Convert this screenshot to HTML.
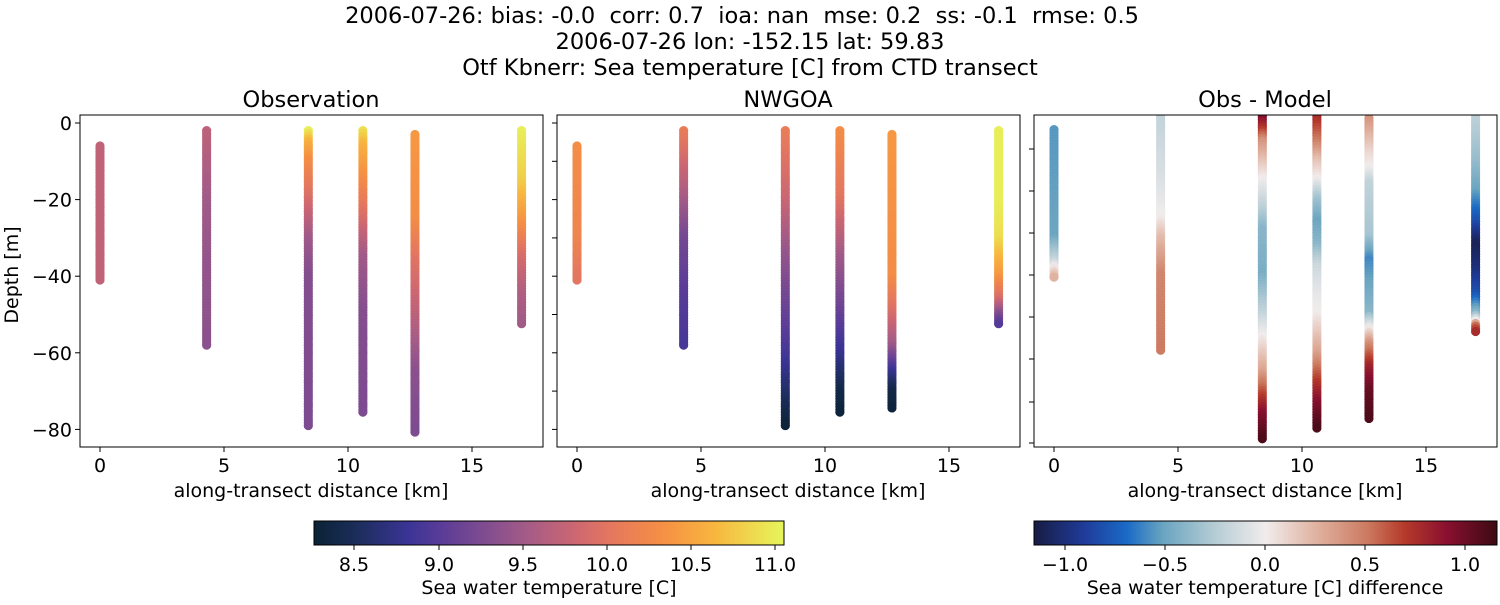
<!DOCTYPE html>
<html><head><meta charset="utf-8"><style>
body{margin:0;background:#fff}
svg text{font-family:"DejaVu Sans","Liberation Sans",sans-serif;fill:#000;white-space:pre}
</style></head><body>
<svg id="s" width="1500" height="600" xmlns="http://www.w3.org/2000/svg">
<defs>
<linearGradient id="gt" x1="0" x2="1" y1="0" y2="0">
<stop offset="0" stop-color="#0a2235"/><stop offset="0.09" stop-color="#1c2d5a"/><stop offset="0.2" stop-color="#3a3496"/><stop offset="0.27" stop-color="#5a3c98"/><stop offset="0.45" stop-color="#a35b87"/><stop offset="0.55" stop-color="#cb6673"/><stop offset="0.63" stop-color="#e4775f"/><stop offset="0.74" stop-color="#f58f44"/><stop offset="0.85" stop-color="#f8b53f"/><stop offset="1" stop-color="#e6f65b"/>
</linearGradient>
<linearGradient id="gb" x1="0" x2="1" y1="0" y2="0">
<stop offset="0" stop-color="#181c43"/><stop offset="0.11" stop-color="#1f3c9a"/><stop offset="0.2" stop-color="#1a6ac6"/><stop offset="0.28" stop-color="#6aa5c0"/><stop offset="0.39" stop-color="#b5ccd5"/><stop offset="0.5" stop-color="#f1ecec"/><stop offset="0.61" stop-color="#e0b2a0"/><stop offset="0.72" stop-color="#cc7a60"/><stop offset="0.8" stop-color="#b53a2a"/><stop offset="0.89" stop-color="#8a1030"/><stop offset="1" stop-color="#3c0a12"/>
</linearGradient>
<clipPath id="c1"><rect x="80" y="115" width="463" height="332"/></clipPath>
<clipPath id="c2"><rect x="557" y="115" width="463" height="332"/></clipPath>
<clipPath id="c3"><rect x="1034" y="115" width="463" height="332"/></clipPath>
</defs>
<g font-size="22.5" text-anchor="middle">
<text x="742" y="23" xml:space="preserve">2006-07-26: bias: -0.0  corr: 0.7  ioa: nan  mse: 0.2  ss: -0.1  rmse: 0.5</text>
<text x="750" y="49">2006-07-26 lon: -152.15 lat: 59.83</text>
<text x="750" y="75">Otf Kbnerr: Sea temperature [C] from CTD transect</text>
<text x="311" y="107">Observation</text>
<text x="788" y="107">NWGOA</text>
<text x="1265" y="107">Obs - Model</text>
</g>
<g id="plots"></g>
<g id="axes" font-size="19"></g>
<rect x="314" y="521" width="470" height="24" fill="url(#gt)" stroke="#000" stroke-width="1"/>
<rect x="1034" y="521" width="463" height="24" fill="url(#gb)" stroke="#000" stroke-width="1"/>
<g font-size="19" text-anchor="middle">
<text x="354" y="571">8.5</text><text x="439" y="571">9.0</text><text x="523" y="571">9.5</text><text x="607" y="571">10.0</text><text x="691" y="571">10.5</text><text x="775" y="571">11.0</text>
<text x="549" y="594">Sea water temperature [C]</text>
<text x="1065" y="571">−1.0</text><text x="1165" y="571">−0.5</text><text x="1265" y="571">0.0</text><text x="1365" y="571">0.5</text><text x="1465" y="571">1.0</text>
<text x="1265" y="594">Sea water temperature [C] difference</text>
</g>
<g stroke="#000" stroke-width="1">
<line x1="354" y1="545" x2="354" y2="550"/><line x1="439" y1="545" x2="439" y2="550"/><line x1="523" y1="545" x2="523" y2="550"/><line x1="607" y1="545" x2="607" y2="550"/><line x1="691" y1="545" x2="691" y2="550"/><line x1="775" y1="545" x2="775" y2="550"/>
<line x1="1065" y1="545" x2="1065" y2="550"/><line x1="1165" y1="545" x2="1165" y2="550"/><line x1="1265" y1="545" x2="1265" y2="550"/><line x1="1365" y1="545" x2="1365" y2="550"/><line x1="1465" y1="545" x2="1465" y2="550"/>
</g>
</svg>
<script>
function hex(h){return [parseInt(h.substr(1,2),16),parseInt(h.substr(3,2),16),parseInt(h.substr(5,2),16)];}
function cmap(stops,t){t=Math.max(0,Math.min(1,t));for(var i=1;i<stops.length;i++){if(t<=stops[i][0]){var a=stops[i-1],b=stops[i],f=(t-a[0])/(b[0]-a[0]);var A=hex(a[1]),B=hex(b[1]);return 'rgb('+A.map(function(v,k){return Math.round(v+(B[k]-v)*f)}).join(',')+')';}}return stops[stops.length-1][1];}
var TS=[[0,"#0a2235"],[0.09,"#1c2d5a"],[0.2,"#3a3496"],[0.27,"#5a3c98"],[0.45,"#a35b87"],[0.55,"#cb6673"],[0.63,"#e4775f"],[0.74,"#f58f44"],[0.85,"#f8b53f"],[1,"#e6f65b"]];
var BS=[[0,"#181c43"],[0.11,"#1f3c9a"],[0.2,"#1a6ac6"],[0.28,"#6aa5c0"],[0.39,"#b5ccd5"],[0.5,"#f1ecec"],[0.61,"#e0b2a0"],[0.72,"#cc7a60"],[0.8,"#b53a2a"],[0.89,"#8a1030"],[1,"#3c0a12"]];
function interp(p,d){if(d<=p[0][0])return p[0][1];for(var i=1;i<p.length;i++){if(d<=p[i][0]){var f=(d-p[i-1][0])/(p[i][0]-p[i-1][0]);return p[i-1][1]+f*(p[i][1]-p[i-1][1]);}}return p[p.length-1][1];}
var xs=[0,4.3,8.4,10.6,12.7,17];
var obs=[[[6,9.72],[41,9.72]],[[2,9.7],[20,9.5],[40,9.4],[58,9.35]],[[2,11.0],[5,10.6],[10,10.3],[20,9.9],[30,9.5],[40,9.3],[79,9.25]],[[2,10.9],[6,10.6],[15,10.3],[25,9.9],[35,9.5],[50,9.3],[76,9.25]],[[3,10.4],[25,10.3],[35,10.0],[50,9.7],[65,9.35],[81,9.25]],[[2,11.0],[15,10.8],[25,10.4],[35,9.9],[45,9.6],[53,9.5]]];
var mod=[[[6,10.3],[30,10.2],[41,10.0]],[[2,10.1],[15,9.7],[30,9.2],[45,9.0],[58,8.9]],[[2,10.1],[20,9.8],[35,9.4],[50,9.1],[60,8.9],[70,8.6],[79,8.3]],[[2,10.3],[20,10.0],[35,9.5],[50,9.1],[60,8.8],[70,8.4],[76,8.3]],[[3,10.4],[40,10.3],[50,9.9],[58,9.5],[65,8.8],[70,8.4],[75,8.3]],[[2,11.0],[20,11.0],[30,10.9],[40,10.4],[46,9.9],[50,9.3],[53,8.9]]];
var dif=[[[2,-0.55],[30,-0.5],[36,-0.2],[38,0],[41,0.3]],[[-2,-0.2],[15,-0.1],[25,0],[30,0.2],[40,0.45],[60,0.5]],[[-2,1.0],[2,0.7],[5,0.4],[10,0.2],[15,0],[22,-0.2],[28,-0.4],[40,-0.45],[50,-0.2],[56,0],[65,0.3],[72,0.7],[76,0.9],[83,1.1]],[[-2,0.8],[5,0.5],[10,0.2],[15,0],[20,-0.3],[26,-0.5],[32,-0.4],[38,-0.15],[45,-0.05],[50,0],[60,0.3],[68,0.7],[73,0.9],[80,1.1]],[[-1,0.4],[8,0.1],[12,0],[16,-0.2],[30,-0.3],[36,-0.6],[42,-0.5],[50,-0.4],[54,0],[58,0.4],[64,0.8],[70,1.0],[78,1.1]],[[-2,-0.2],[10,-0.35],[18,-0.5],[26,-0.8],[32,-1.1],[38,-1.0],[45,-0.8],[50,-0.4],[52,0],[53,0.5],[55,0.8]]];
var NS="http://www.w3.org/2000/svg",g=document.getElementById('plots'),ax=document.getElementById('axes');
function el(t,a,p){var e=document.createElementNS(NS,t);for(var k in a)e.setAttribute(k,a[k]);(p||g).appendChild(e);return e;}
function panel(x0,data,y0,col,clip){var gg=el('g',{'clip-path':'url(#'+clip+')'});for(var c=0;c<6;c++){var p=data[c],cx=x0+20+xs[c]*24.8;for(var d=p[0][0];d<=p[p.length-1][0]+0.01;d+=0.7){el('circle',{cx:cx,cy:y0+d*3.83,r:4.6,fill:col(interp(p,d))},gg);}}}
panel(80,obs,123,function(v){return cmap(TS,(v-8.26)/(11.05-8.26))},'c1');
panel(557,mod,123,function(v){return cmap(TS,(v-8.26)/(11.05-8.26))},'c2');
panel(1034,dif,122,function(v){return cmap(BS,(v+1.15)/2.3)},'c3');
[80,557,1034].forEach(function(x0,i){
 el('rect',{x:x0,y:115,width:463,height:332,fill:'none',stroke:'#000','stroke-width':1},ax);
 [0,5,10,15].forEach(function(k){var x=x0+20+k*24.8;el('line',{x1:x,y1:447,x2:x,y2:452,stroke:'#000'},ax);var t=el('text',{x:x,y:472,'text-anchor':'middle'},ax);t.textContent=k;});
 var t=el('text',{x:x0+231,y:497,'text-anchor':'middle'},ax);t.textContent='along-transect distance [km]';
 if(i<2){[0,-20,-40,-60,-80].forEach(function(v,j){var y=123-v*3.83;el('line',{x1:x0-5,y1:y,x2:x0,y2:y,stroke:'#000'},ax);if(i==0){var tt=el('text',{x:x0-8,y:y+7,'text-anchor':'end'},ax);tt.textContent=(v<0?'\u2212'+(-v):v);}});
  if(i==1)[-10,-30,-50,-70].forEach(function(v){var y=123-v*3.83;el('line',{x1:x0-5,y1:y,x2:x0,y2:y,stroke:'#000'},ax);});}
 else{[149,191,233,275,317,359,402,443].forEach(function(y){el('line',{x1:x0-5,y1:y,x2:x0,y2:y,stroke:'#000'},ax);});}
});
var yl=el('text',{x:18,y:275,'text-anchor':'middle',transform:'rotate(-90 18 275)'},ax);yl.textContent='Depth [m]';
</script>
</body></html>
